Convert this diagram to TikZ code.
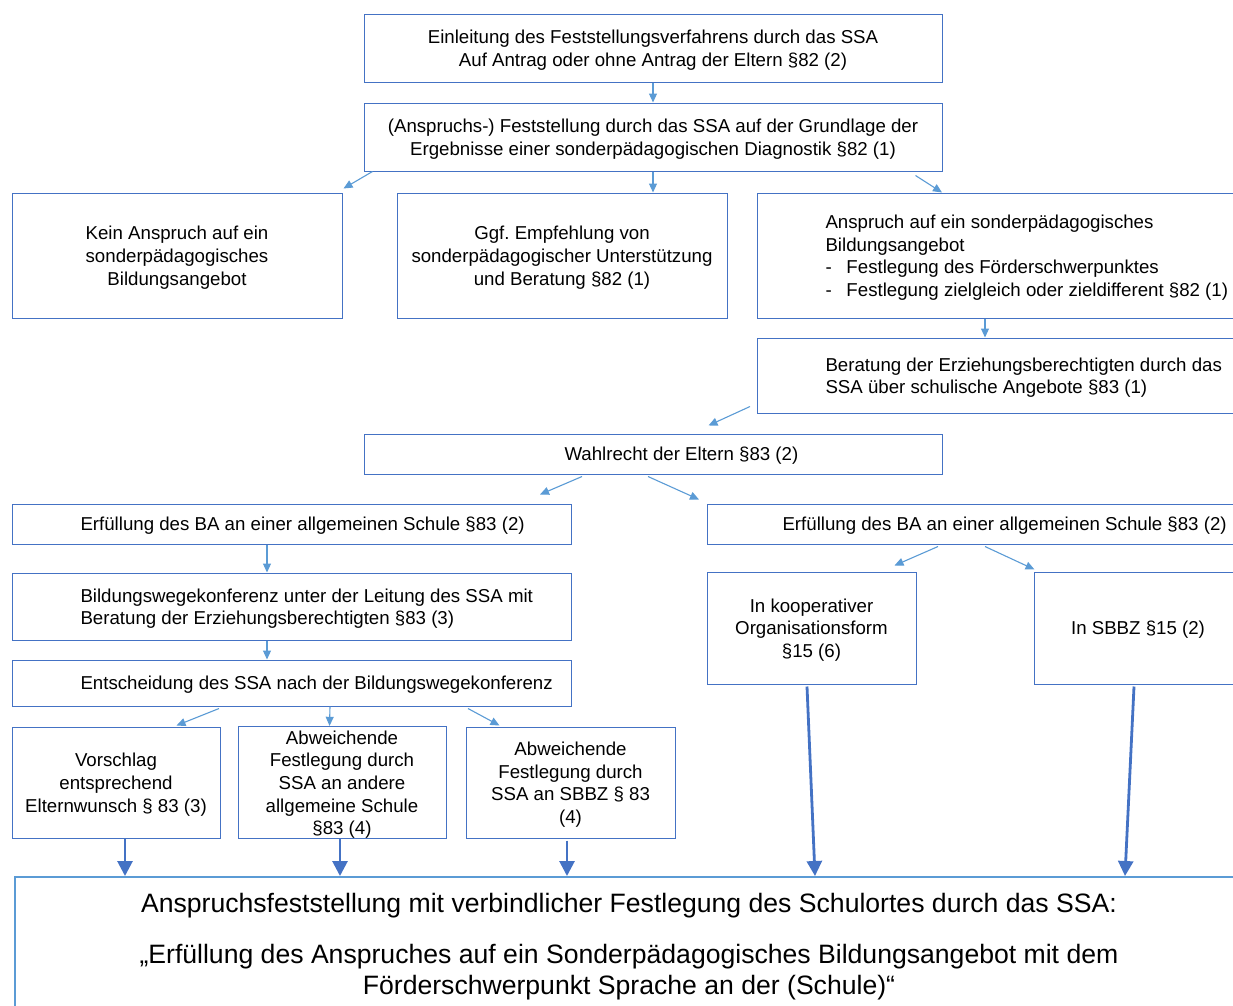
\documentclass[tikz,border=0pt]{standalone}
\usepackage{fontspec}
\setmainfont{Liberation Sans}
\frenchspacing
\usetikzlibrary{arrows.meta,calc}
\definecolor{boxc}{HTML}{4472C4}
\definecolor{arrc}{HTML}{5B9BD5}
\begin{document}
\begin{tikzpicture}[x=1pt,y=-1pt,
  box/.style={draw=boxc, line width=1pt, inner sep=0pt, align=flush center,
    font=\fontsize{18.67}{22.7}\selectfont,
    execute at begin node={\rule{0pt}{0.95em}}},
  cbox/.style 2 args={box, minimum width=#1, text width=#1, minimum height=#2},
  lbox/.style={box, align=flush left, anchor=west},
  bigbox/.style={draw=arrc, line width=2pt, inner sep=0pt, align=flush center,
    font=\fontsize{26.6}{31}\selectfont,
    execute at begin node={\rule{0pt}{0.95em}}},
  arr/.style={draw=arrc, line width=1.1pt, -{Triangle[length=9pt,width=8pt]}},
  thk/.style={draw=boxc, line width=2.8pt, -{Triangle[length=15pt,width=15pt]}}]
\clip (0,0) rectangle (1233,1005);
\useasboundingbox (0,0) rectangle (1233,1005);

\node[cbox={578}{68}] (b1) at (653,48)
  {Einleitung des Feststellungsverfahrens durch das SSA\\Auf Antrag oder ohne Antrag der Eltern §82 (2)};
\node[cbox={578}{68}] (b2) at (653,137)
  {(Anspruchs-) Feststellung durch das SSA auf der Grundlage der\\Ergebnisse einer sonderpädagogischen Diagnostik §82 (1)};
\node[cbox={330}{125}] (b3) at (177,255.5)
  {Kein Anspruch auf ein\\sonderpädagogisches\\Bildungsangebot};
\node[cbox={330}{125}] (b4) at (562,255.5)
  {Ggf. Empfehlung von\\sonderpädagogischer Unterstützung\\und Beratung §82 (1)};
\node[lbox, inner xsep=68, text width=500, minimum height=125] (b5) at (757,255.5)
  {Anspruch auf ein sonderpädagogisches\\Bildungsangebot\\\makebox[21pt][l]{-}Festlegung des Förderschwerpunktes\\\makebox[21pt][l]{-}Festlegung zielgleich oder zieldifferent §82 (1)};
\node[lbox, inner xsep=68, text width=500, minimum height=75] (b6) at (757,375.5)
  {Beratung der Erziehungsberechtigten durch das\\SSA über schulische Angebote §83 (1)};
\node[lbox, inner xsep=200, text width=178, minimum height=40] (b7) at (364,454)
  {\mbox{Wahlrecht der Eltern §83 (2)}};
\node[lbox, inner xsep=68, text width=423, minimum height=40] (b8) at (12,524)
  {\mbox{Erfüllung des BA an einer allgemeinen Schule §83 (2)}};
\node[lbox, inner xsep=75, text width=500, minimum height=40] (b9) at (707,524)
  {\mbox{Erfüllung des BA an einer allgemeinen Schule §83 (2)}};
\node[lbox, inner xsep=68, text width=423, minimum height=67] (b10) at (12,606.5)
  {\mbox{Bildungswegekonferenz unter der Leitung des SSA mit}\\\mbox{Beratung der Erziehungsberechtigten §83 (3)}};
\node[lbox, inner xsep=68, text width=423, minimum height=46] (b11) at (12,683)
  {\mbox{Entscheidung des SSA nach der Bildungswegekonferenz}};
\node[cbox={208}{111}] (b12) at (116,782.5)
  {Vorschlag\\entsprechend\\Elternwunsch § 83 (3)};
\node[cbox={208}{111}] (b13) at (342,782.5)
  {Abweichende\\Festlegung durch\\SSA an andere\\allgemeine Schule\\§83 (4)};
\node[cbox={209}{111}] (b14) at (570.5,782.5)
  {Abweichende\\Festlegung durch\\SSA an SBBZ § 83\\(4)};
\node[cbox={209}{112}] (b15) at (811.5,628)
  {In kooperativer\\Organisationsform\\§15 (6)};
\node[cbox={208}{112}] (b16) at (1138,628)
  {In SBBZ §15 (2)};
\node[bigbox, minimum width=1228, text width=1228, minimum height=134] (b17) at (629,944)
  {Anspruchsfeststellung mit verbindlicher Festlegung des Schulortes durch das SSA:\\[20pt]
   „Erfüllung des Anspruches auf ein Sonderpädagogisches Bildungsangebot mit dem\\
   Förderschwerpunkt Sprache an der (Schule)“};

% thin arrows
\draw[arr] (b1.south) -- (b2.north);
\draw[arr] ($(b2.south west)+(9,0)$) -- ($(b3.north east)+(1,-4)$);
\draw[arr] (b2.south) -- (b2.south |- b4.north);
\draw[arr] ($(b2.south east)+(-27,4)$) -- ($(b5.north west)+(185,0)$);
\draw[arr] ($(b5.south west)+(228,0)$) -- ($(b6.north west)+(228,0)$);
\draw[arr] ($(b6.south west)+(-7,-7)$) -- ($(b7.north)+(55,-8)$);
\draw[arr] ($(b7.south west)+(218,2)$) -- ($(b8.north west)+(528,-9)$);
\draw[arr] ($(b7.south west)+(284,2)$) -- ($(b9.north west)+(-8,-4)$);
\draw[arr] ($(b8.south west)+(255,0)$) -- ($(b10.north west)+(255,0)$);
\draw[arr] ($(b10.south west)+(255,0)$) -- ($(b11.north west)+(255,0)$);
\draw[arr] ($(b9.south west)+(231,2)$) -- ($(b15.north west)+(188,-6)$);
\draw[arr] ($(b9.south west)+(278,2)$) -- ($(b16.north west)+(1,-2)$);
\draw[arr] ($(b11.south west)+(207,2)$) -- ($(b12.north west)+(165,-1)$);
\draw[arr] ($(b11.south west)+(318,0)$) -- ($(b13.north west)+(92,0)$);
\draw[arr] ($(b11.south west)+(456,2)$) -- ($(b14.north west)+(34,-1)$);

% thick arrows
\coordinate (s12) at ($(b12.south)+(9,0)$);
\coordinate (s13) at ($(b13.south)+(-2,0)$);
\coordinate (s14) at ($(b14.south)+(-3.5,2)$);
\draw[thk] (s12) -- (s12 |- b17.north);
\draw[thk] (s13) -- (s13 |- b17.north);
\draw[thk] (s14) -- (s14 |- b17.north);
\draw[thk] ($(b15.south)+(-4.5,2)$) -- ($(b17.north west)+(801,0)$);
\draw[thk] ($(b16.south)+(-4,2)$) -- ($(b17.north west)+(1111,0)$);
\end{tikzpicture}
\end{document}
